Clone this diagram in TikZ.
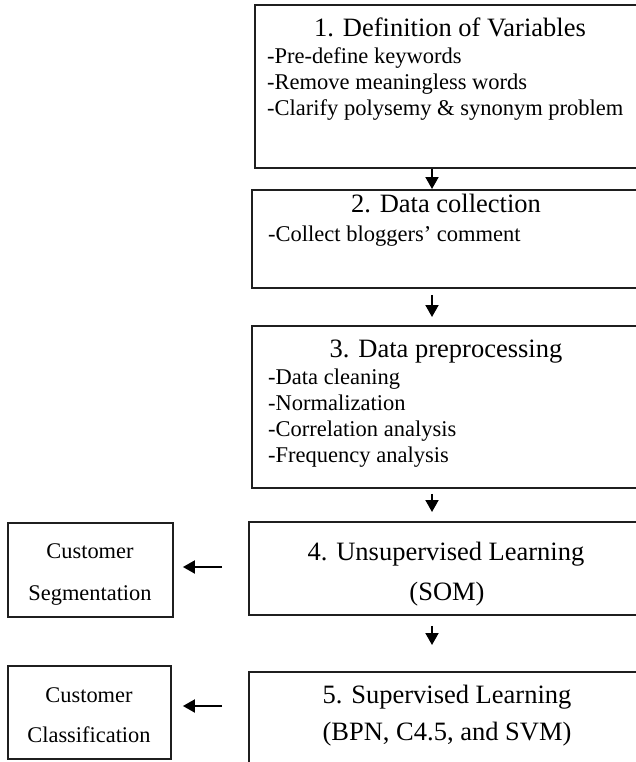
\documentclass[tikz,border=0pt]{standalone}
\usepackage{fontspec}
\setmainfont{Liberation Serif}
\usetikzlibrary{arrows.meta}
\begin{document}
\begin{tikzpicture}[x=1pt,y=-1pt,
  box/.style={draw=black!88, line width=1.9pt, inner sep=0pt, rectangle, anchor=north west},
  titletext/.style={font=\fontsize{26.5}{30}\selectfont, inner sep=0pt, anchor=base},
  itemtext/.style={font=\fontsize{22.5}{26}\selectfont, inner sep=0pt, anchor=base west},
  sidetext/.style={font=\fontsize{22.4}{26}\selectfont, inner sep=0pt, anchor=base},
  flow/.style={draw=black, line width=1.9pt, -{Triangle[width=13pt,length=12pt]}},
]
\useasboundingbox (0,0) rectangle (636,762);

% process steps (their right sides run past the page edge)
\node[box, minimum width=392pt, minimum height=163pt] (b1) at (254,4) {};
\node[box, minimum width=390pt, minimum height=98pt]  (b2) at (251,189) {};
\node[box, minimum width=390pt, minimum height=162pt] (b3) at (251,325) {};
\node[box, minimum width=396pt, minimum height=93pt]  (b4) at (248,521) {};
\node[box, minimum width=396pt, minimum height=120pt] (b5) at (248,671) {};

% outcome boxes
\node[box, minimum width=165pt, minimum height=94pt] (seg) at (7,522) {};
\node[box, minimum width=163pt, minimum height=93pt] (cls) at (7,665) {};

% step 1
\node[titletext] (t1) at (450,37) {1. Definition of Variables};
\node[itemtext] (t1a) at (267,64)  {-Pre-define keywords};
\node[itemtext] (t1b) at (267,90)  {-Remove meaningless words};
\node[itemtext] (t1c) at (267,116) {-Clarify polysemy \& synonym problem};

% step 2
\node[titletext] (t2) at (446,212) {2. Data collection};
\node[itemtext] (t2a) at (268,241) {-Collect bloggers’ comment};

% step 3
\node[titletext] (t3) at (446,357) {3. Data preprocessing};
\node[itemtext] (t3a) at (268,384) {-Data cleaning};
\node[itemtext] (t3b) at (268,410) {-Normalization};
\node[itemtext] (t3c) at (268,436) {-Correlation analysis};
\node[itemtext] (t3d) at (268,462) {-Frequency analysis};

% step 4
\node[titletext] (t4) at (446,560) {4. Unsupervised Learning};
\node[titletext] (t4a) at (447,600) {(SOM)};

% step 5
\node[titletext] (t5) at (447,703) {5. Supervised Learning};
\node[titletext] (t5a) at (447,740) {(BPN, C4.5, and SVM)};

% outcomes
\node[sidetext] (s1) at (90,558) {Customer};
\node[sidetext] (s2) at (90,600) {Segmentation};
\node[sidetext] (c1) at (89,702) {Customer};
\node[sidetext] (c2) at (89,742) {Classification};

% vertical flow
\coordinate (ax) at (432,0);
\draw[flow] (b1.south -| ax) -- (b2.north -| ax);
\draw[flow, shorten <=6pt, shorten >=8pt] (b2.south -| ax) -- (b3.north -| ax);
\draw[flow, shorten <=5pt, shorten >=9pt] (b3.south -| ax) -- (b4.north -| ax);
\draw[flow, shorten <=10pt, shorten >=26pt] (b4.south -| ax) -- (b5.north -| ax);

% side outputs
\coordinate (f4) at ([yshift=-46pt]b4.north west);
\draw[flow, shorten <=26pt, shorten >=9pt] (f4) -- (f4 -| seg.east);
\coordinate (f5) at ([yshift=-35pt]b5.north west);
\draw[flow, shorten <=26pt, shorten >=11pt] (f5) -- (f5 -| cls.east);
\end{tikzpicture}
\end{document}
